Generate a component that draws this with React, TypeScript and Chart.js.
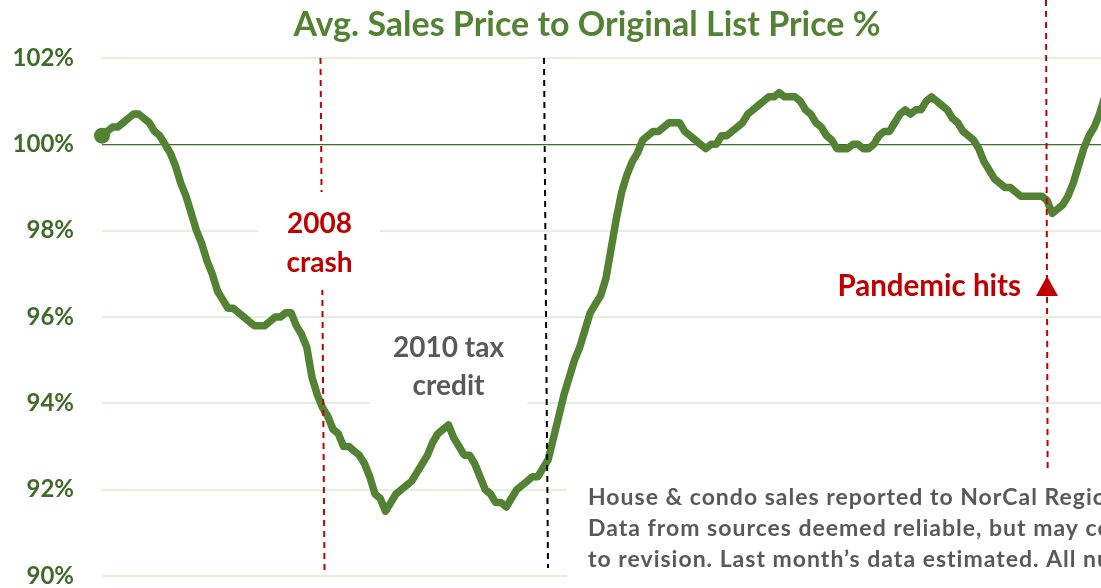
import React, { useEffect, useRef } from 'react';
import { Chart, registerables } from 'chart.js';

Chart.register(...registerables);

// ---- Data ----
const TITLE = 'Avg. Sales Price to Original List Price %';
const START_YEAR = 2005;
const START_MONTH = 3; // first month shown (March)

// Monthly average sales price as % of original list price
const salesToListPct: number[] = [
  100.2, 100.3, 100.4, 100.4, 100.5, 100.6, 100.7, 100.7, 100.6, 100.5,
  100.3, 100.2, 100.0, 99.8, 99.5, 99.1, 98.8, 98.4, 98.0, 97.7,
  97.3, 97.0, 96.6, 96.4, 96.2, 96.2, 96.1, 96.0, 95.9, 95.8,
  95.8, 95.8, 95.9, 96.0, 96.0, 96.1, 96.1, 95.8, 95.6, 95.3,
  94.6, 94.2, 93.9, 93.7, 93.4, 93.3, 93.0, 93.0, 92.9, 92.8,
  92.6, 92.3, 91.9, 91.8, 91.5, 91.7, 91.9, 92.0, 92.1, 92.2,
  92.4, 92.6, 92.8, 93.1, 93.3, 93.4, 93.5, 93.2, 93.0, 92.8,
  92.8, 92.6, 92.3, 92.0, 91.9, 91.7, 91.7, 91.6, 91.8, 92.0,
  92.1, 92.2, 92.3, 92.3, 92.5, 92.7, 93.2, 93.7, 94.2, 94.6,
  95.0, 95.3, 95.7, 96.1, 96.3, 96.5, 96.9, 97.6, 98.3, 98.9,
  99.3, 99.6, 99.8, 100.1, 100.2, 100.3, 100.3, 100.4, 100.5, 100.5,
  100.5, 100.3, 100.2, 100.1, 100.0, 99.9, 100.0, 100.0, 100.2, 100.2,
  100.3, 100.4, 100.5, 100.7, 100.8, 100.9, 101.0, 101.1, 101.1, 101.2,
  101.1, 101.1, 101.1, 101.0, 100.8, 100.7, 100.5, 100.4, 100.2, 100.1,
  99.9, 99.9, 99.9, 100.0, 100.0, 99.9, 99.9, 100.0, 100.2, 100.3,
  100.3, 100.5, 100.7, 100.8, 100.7, 100.8, 100.8, 101.0, 101.1, 101.0,
  100.9, 100.8, 100.6, 100.5, 100.3, 100.2, 100.1, 99.9, 99.6, 99.4,
  99.2, 99.1, 99.0, 99.0, 98.9, 98.8, 98.8, 98.8, 98.8, 98.8,
  98.7, 98.4, 98.5, 98.6, 98.8, 99.1, 99.5, 99.9, 100.2, 100.4,
  100.7, 101.1, 101.5,
];

// Month categories (YYYY-MM)
const months: string[] = salesToListPct.map((_, i) => {
  const m = START_MONTH - 1 + i;
  return `${START_YEAR + Math.floor(m / 12)}-${String((m % 12) + 1).padStart(2, '0')}`;
});

const yTickValues: number[] = [90, 92, 94, 96, 98, 100, 102];
const yTickLabels: string[] = ['90%', '92%', '94%', '96%', '98%', '100%', '102%'];

const CRASH_MONTH = '2008-09';
const TAX_LINE_MONTH = '2012-03';
const TAX_LABEL_MONTH = '2010-09';
const PANDEMIC_MONTH = '2020-03';

const crashLabel: string[] = ['2008', 'crash'];
const taxLabel: string[] = ['2010 tax', 'credit'];
const pandemicLabel = 'Pandemic hits';
const noteLines: string[] = [
  'House & condo sales reported to NorCal Regional MLS.',
  'Data from sources deemed reliable, but may contain errors and subject',
  'to revision. Last month\u2019s data estimated. All numbers approximate.',
];

const FONT = 'Lato, "Open Sans", sans-serif';
const GREEN = '#548235';
const DARK_GREEN = '#3E6B27';
const RED = '#C00000';
const GRAY = '#595959';

const annotationPlugin = {
  id: 'annotations',
  afterDatasetsDraw(chart: any) {
    const { ctx, chartArea, scales } = chart;
    const x = scales.x;
    const xOf = (m: string) => x.getPixelForValue(months.indexOf(m));
    const crashX = xOf(CRASH_MONTH);
    const taxLineX = xOf(TAX_LINE_MONTH);
    const taxLabelX = xOf(TAX_LABEL_MONTH);
    const pandX = xOf(PANDEMIC_MONTH);

    ctx.save();
    // dashed event lines
    ctx.lineWidth = 2;
    ctx.setLineDash([6, 5]);
    ctx.strokeStyle = RED;
    ctx.beginPath();
    ctx.moveTo(crashX - 2, chartArea.top);
    ctx.lineTo(crashX + 2, chartArea.bottom - 6);
    ctx.stroke();
    ctx.strokeStyle = '#000000';
    ctx.beginPath();
    ctx.moveTo(taxLineX + 1, chartArea.top);
    ctx.lineTo(taxLineX + 5, chartArea.bottom - 8);
    ctx.stroke();
    ctx.strokeStyle = RED;
    ctx.beginPath();
    ctx.moveTo(pandX - 1, 0);
    ctx.lineTo(pandX + 1, chartArea.bottom);
    ctx.stroke();
    ctx.setLineDash([]);

    // white label boxes
    ctx.fillStyle = '#ffffff';
    ctx.fillRect(crashX - 64, 192, 121, 98);
    ctx.fillRect(taxLabelX - 79, 318, 158, 97);
    ctx.fillRect(567, 470, chart.width - 567, chart.height - 470);

    // crash text
    ctx.textAlign = 'center';
    ctx.textBaseline = 'alphabetic';
    ctx.font = `bold 28px ${FONT}`;
    ctx.fillStyle = RED;
    ctx.fillText(crashLabel[0], crashX - 3, 233);
    ctx.fillText(crashLabel[1], crashX - 3, 272);

    // tax credit text
    ctx.fillStyle = GRAY;
    ctx.fillText(taxLabel[0], taxLabelX, 357);
    ctx.fillText(taxLabel[1], taxLabelX, 395);

    // pandemic text + triangle
    ctx.font = `bold 29.5px ${FONT}`;
    ctx.fillStyle = RED;
    ctx.textAlign = 'right';
    ctx.fillText(pandemicLabel, pandX - 26, 296);
    ctx.beginPath();
    ctx.moveTo(pandX, 276);
    ctx.lineTo(pandX + 11, 296);
    ctx.lineTo(pandX - 11, 296);
    ctx.closePath();
    ctx.fill();

    // note
    ctx.font = `bold 23px ${FONT}`;
    try { (ctx as any).letterSpacing = '1px'; } catch (e) { /* ignore */ }
    ctx.fillStyle = GRAY;
    ctx.textAlign = 'left';
    noteLines.forEach((t, i) => ctx.fillText(t, 588, 505 + i * 31));
    try { (ctx as any).letterSpacing = '0px'; } catch (e) { /* ignore */ }

    // title
    ctx.font = `bold 34px ${FONT}`;
    ctx.fillStyle = GREEN;
    ctx.textAlign = 'center';
    ctx.fillText(TITLE, 587, 36);
    ctx.restore();
  },
};

export default function App() {
  const canvasRef = useRef<HTMLCanvasElement | null>(null);

  useEffect(() => {
    const canvas = canvasRef.current;
    if (!canvas) return;
    const chart = new Chart(canvas, {
      type: 'line',
      data: {
        labels: months,
        datasets: [
          {
            data: salesToListPct,
            borderColor: GREEN,
            backgroundColor: GREEN,
            borderWidth: 7.5,
            borderJoinStyle: 'round',
            borderCapStyle: 'round',
            tension: 0,
            pointRadius: salesToListPct.map((_, i) => (i === 0 ? 8 : 0)),
            pointBorderWidth: 0,
            pointHoverRadius: 0,
            clip: false,
          } as any,
        ],
      },
      options: {
        responsive: true,
        maintainAspectRatio: false,
        animation: false,
        events: [],
        layout: { padding: { top: 58, bottom: 12, left: 0, right: 0 }, autoPadding: false },
        plugins: {
          legend: { display: false },
          title: { display: false },
          tooltip: { enabled: false },
        },
        scales: {
          x: { display: false },
          y: {
            min: 90,
            max: 102,
            afterBuildTicks: (axis: any) => {
              axis.ticks = yTickValues.map((v) => ({ value: v }));
            },
            afterFit: (axis: any) => {
              axis.width = 102;
            },
            border: { display: false },
            grid: {
              drawTicks: true,
              tickLength: 28,
              tickColor: 'rgba(0,0,0,0)',
              color: (c: any) => (c.tick && c.tick.value === 100 ? DARK_GREEN : '#E2EFDA'),
              lineWidth: (c: any) => (c.tick && c.tick.value === 100 ? 1.3 : 2),
            },
            ticks: {
              padding: 0,
              color: DARK_GREEN,
              font: { family: FONT, size: 24, weight: 'bold', lineHeight: 1.0 },
              callback: (v: any) => yTickLabels[yTickValues.indexOf(Number(v))],
            },
          },
        },
      },
      plugins: [annotationPlugin],
    });
    return () => chart.destroy();
  }, []);

  return (
    <div style={{ position: 'absolute', left: 0, top: 0, width: 1101, height: 588, overflow: 'hidden', background: '#ffffff' }}>
      <div style={{ position: 'relative', width: 1110, height: 588 }}>
        <canvas ref={canvasRef} />
      </div>
    </div>
  );
}
